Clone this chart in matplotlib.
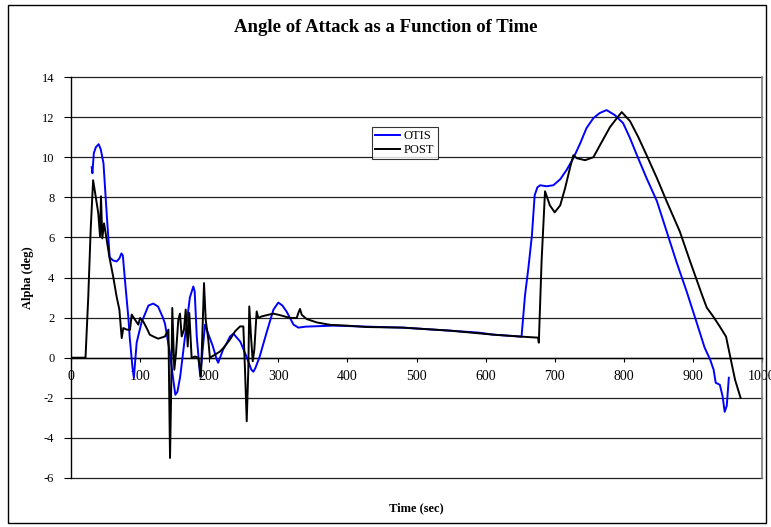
import matplotlib
matplotlib.use("Agg")
from matplotlib import pyplot as plt
from matplotlib.patches import Rectangle

# OTIS trajectory: time (sec) and angle of attack (deg)
otis_t = [30, 31, 33, 36, 40, 43, 47, 52, 56, 61, 66, 70, 73, 75, 78, 83, 85, 89, 91, 95,
          102, 112, 119, 126, 133, 136, 143, 148, 151, 154, 158, 165, 172, 177, 179, 182,
          187, 190, 194, 198, 205, 211, 213, 220, 225, 230, 235, 240, 245, 254, 261, 264,
          267, 273, 283, 293, 300, 306, 312, 322, 329, 340, 380, 428, 480, 548, 590, 611,
          652, 657, 662, 667, 671, 675, 679, 688, 698, 708, 717, 727, 737, 746, 756, 765,
          775, 787, 799, 809, 819, 833, 848, 862, 876, 891, 905, 917, 925, 930, 933, 939,
          943, 946, 949, 952]
otis_alpha = [9.5, 9.2, 10.2, 10.5, 10.65, 10.4, 9.7, 7.0, 5.0, 4.85, 4.8, 4.95, 5.2, 5.1,
              3.9, 2.0, 1.0, -0.5, -1.0, 0.75, 1.75, 2.6, 2.7, 2.55, 2.0, 1.7, 0.25, -1.1,
              -1.85, -1.7, -0.95, 1.05, 3.0, 3.55, 3.3, 1.05, -0.95, 0.2, 1.65, 1.25, 0.6,
              -0.1, -0.25, 0.4, 0.7, 1.05, 1.2, 1.0, 0.8, 0.05, -0.6, -0.7, -0.5, 0.05, 1.25,
              2.4, 2.75, 2.6, 2.3, 1.65, 1.5, 1.55, 1.6, 1.55, 1.5, 1.35, 1.25, 1.15, 1.05,
              3.1, 4.5, 6.1, 8.1, 8.5, 8.6, 8.55, 8.6, 8.9, 9.35, 9.95, 10.7, 11.45, 11.95,
              12.2, 12.35, 12.1, 11.7, 10.95, 10.1, 8.95, 7.8, 6.3, 4.8, 3.3, 1.8, 0.5, -0.1,
              -0.6, -1.25, -1.35, -1.93, -2.7, -2.4, -1.0]

# POST trajectory
post_t = [0, 21, 25, 28.5, 32, 35, 39.5, 42, 43.4, 45.3, 47.8, 51.6, 55.4, 61, 66, 70, 72,
          73.4, 75.7, 80.6, 85.4, 87.8, 92.6, 97.4, 100, 104.6, 109.5, 114, 119, 126, 129,
          136, 141, 142.3, 143.3, 144.7, 146.6, 149.5, 152, 155.3, 157.7, 160.2, 163.5, 166,
          168.9, 171.2, 174.6, 179.4, 184.2, 188, 190, 192.5, 194.9, 198.7, 201, 208.4,
          215.6, 220.4, 230, 237.3, 244.6, 249.4, 251.8, 254.3, 256.6, 258, 260.5, 263,
          265.3, 268.7, 271, 276, 280.7, 292.8, 305, 317, 326.6, 329, 331.4, 333.9, 341,
          355.6, 374.8, 399, 428, 480, 548, 611, 652, 676, 677, 681, 686, 693, 700, 708,
          715, 722, 727, 732, 744, 756, 765.5, 780, 790, 797, 809, 821, 833, 848, 862, 881,
          896, 913, 920, 929.5, 939, 948, 954, 961, 969]
post_alpha = [0, 0, 3.05, 6.4, 8.85, 8.2, 7.2, 6.05, 8.05, 5.95, 6.7, 5.9, 5.05, 4.05, 3.05,
              2.4, 1.55, 0.98, 1.48, 1.4, 1.4, 2.15, 1.9, 1.65, 1.98, 1.8, 1.48, 1.15, 1.06,
              0.95, 0.98, 1.06, 1.4, -2.25, -5.0, -2.25, 2.48, -0.6, 0.23, 1.9, 2.2, 1.06,
              1.4, 2.4, 0.56, 2.23, -0.02, 0.06, 0, -0.93, 1.06, 3.72, 1.9, 0.9, 0, 0.15,
              0.31, 0.48, 0.9, 1.31, 1.56, 1.56, -0.6, -3.17, -0.6, 2.56, 1.06, -0.18, 0.4,
              2.31, 1.98, 2.06, 2.1, 2.2, 2.1, 1.98, 1.98, 2.23, 2.43, 2.14, 1.93, 1.76, 1.64,
              1.6, 1.53, 1.5, 1.35, 1.15, 1.05, 1.0, 0.75, 4.8, 8.3, 7.6, 7.25, 7.6, 8.45,
              9.45, 10.1, 9.95, 9.85, 10.0, 10.6, 11.5, 11.95, 12.25, 11.8, 11.0, 10.1, 8.95,
              7.8, 6.3, 4.8, 3.15, 2.5, 2.05, 1.55, 1.05, 0.05, -1.1, -2.0]

x_ticks = [0, 100, 200, 300, 400, 500, 600, 700, 800, 900, 1000]
y_ticks = [-6, -4, -2, 0, 2, 4, 6, 8, 10, 12, 14]

plt.rcParams['font.family'] = ['Liberation Serif', 'DejaVu Serif']

W, H = 771, 527
fig = plt.figure(figsize=(W / 100, H / 100), dpi=100)
fig.patches.append(Rectangle((8 / W, 4 / H), 758 / W, 518 / H, transform=fig.transFigure,
                             fill=False, edgecolor='black', linewidth=1.0))

ax = fig.add_axes([71 / W, (H - 478) / H, (762 - 71) / W, (478 - 77) / H])

# horizontal gridlines like a spreadsheet chart
for yv in y_ticks:
    ax.axhline(yv, color='#222222', linewidth=0.9, zorder=1, clip_on=False)

ax.plot(otis_t, otis_alpha, color='#0000ff', linewidth=1.4, label='OTIS', zorder=3)
ax.plot(post_t, post_alpha, color='black', linewidth=1.4, label='POST', zorder=4)

ax.set_xlim(0, 1000)
ax.set_ylim(-6, 14)
ax.set_xticks(x_ticks)
ax.set_yticks(y_ticks)
ax.set_xticklabels([str(v) for v in x_ticks], fontsize=9)
ax.set_yticklabels([str(v) for v in y_ticks], fontsize=9)

# x axis runs along alpha = 0
ax.spines['bottom'].set_position(('data', 0))
ax.spines['bottom'].set_linewidth(1.0)
ax.spines['left'].set_linewidth(1.0)
ax.spines['top'].set_visible(False)
ax.spines['right'].set_color('#808080')
ax.spines['right'].set_linewidth(1.2)
ax.tick_params(axis='x', direction='out', length=3, width=0.8, pad=6)
ax.tick_params(axis='y', direction='out', length=5, width=0.8, pad=7)

ax.set_xlabel('Time (sec)', fontsize=9, fontweight='bold')
ax.xaxis.set_label_coords(0.5, -0.06)
ax.set_ylabel('Alpha (deg)', fontsize=9, fontweight='bold', labelpad=6)

fig.text(0.5, (H - 28) / H, 'Angle of Attack as a Function of Time', ha='center',
         va='center', fontsize=13.5, fontweight='bold')

leg = ax.legend(loc='upper left', bbox_to_anchor=((372 - 71) / 691, (478 - 127) / 401),
                fontsize=9, frameon=True, fancybox=False, edgecolor='black',
                handlelength=2.0, handletextpad=0.3, borderpad=0.25, labelspacing=0.15,
                borderaxespad=0)
leg.get_frame().set_linewidth(0.8)
leg.set_zorder(5)

fig.savefig('out.png', dpi=100)
